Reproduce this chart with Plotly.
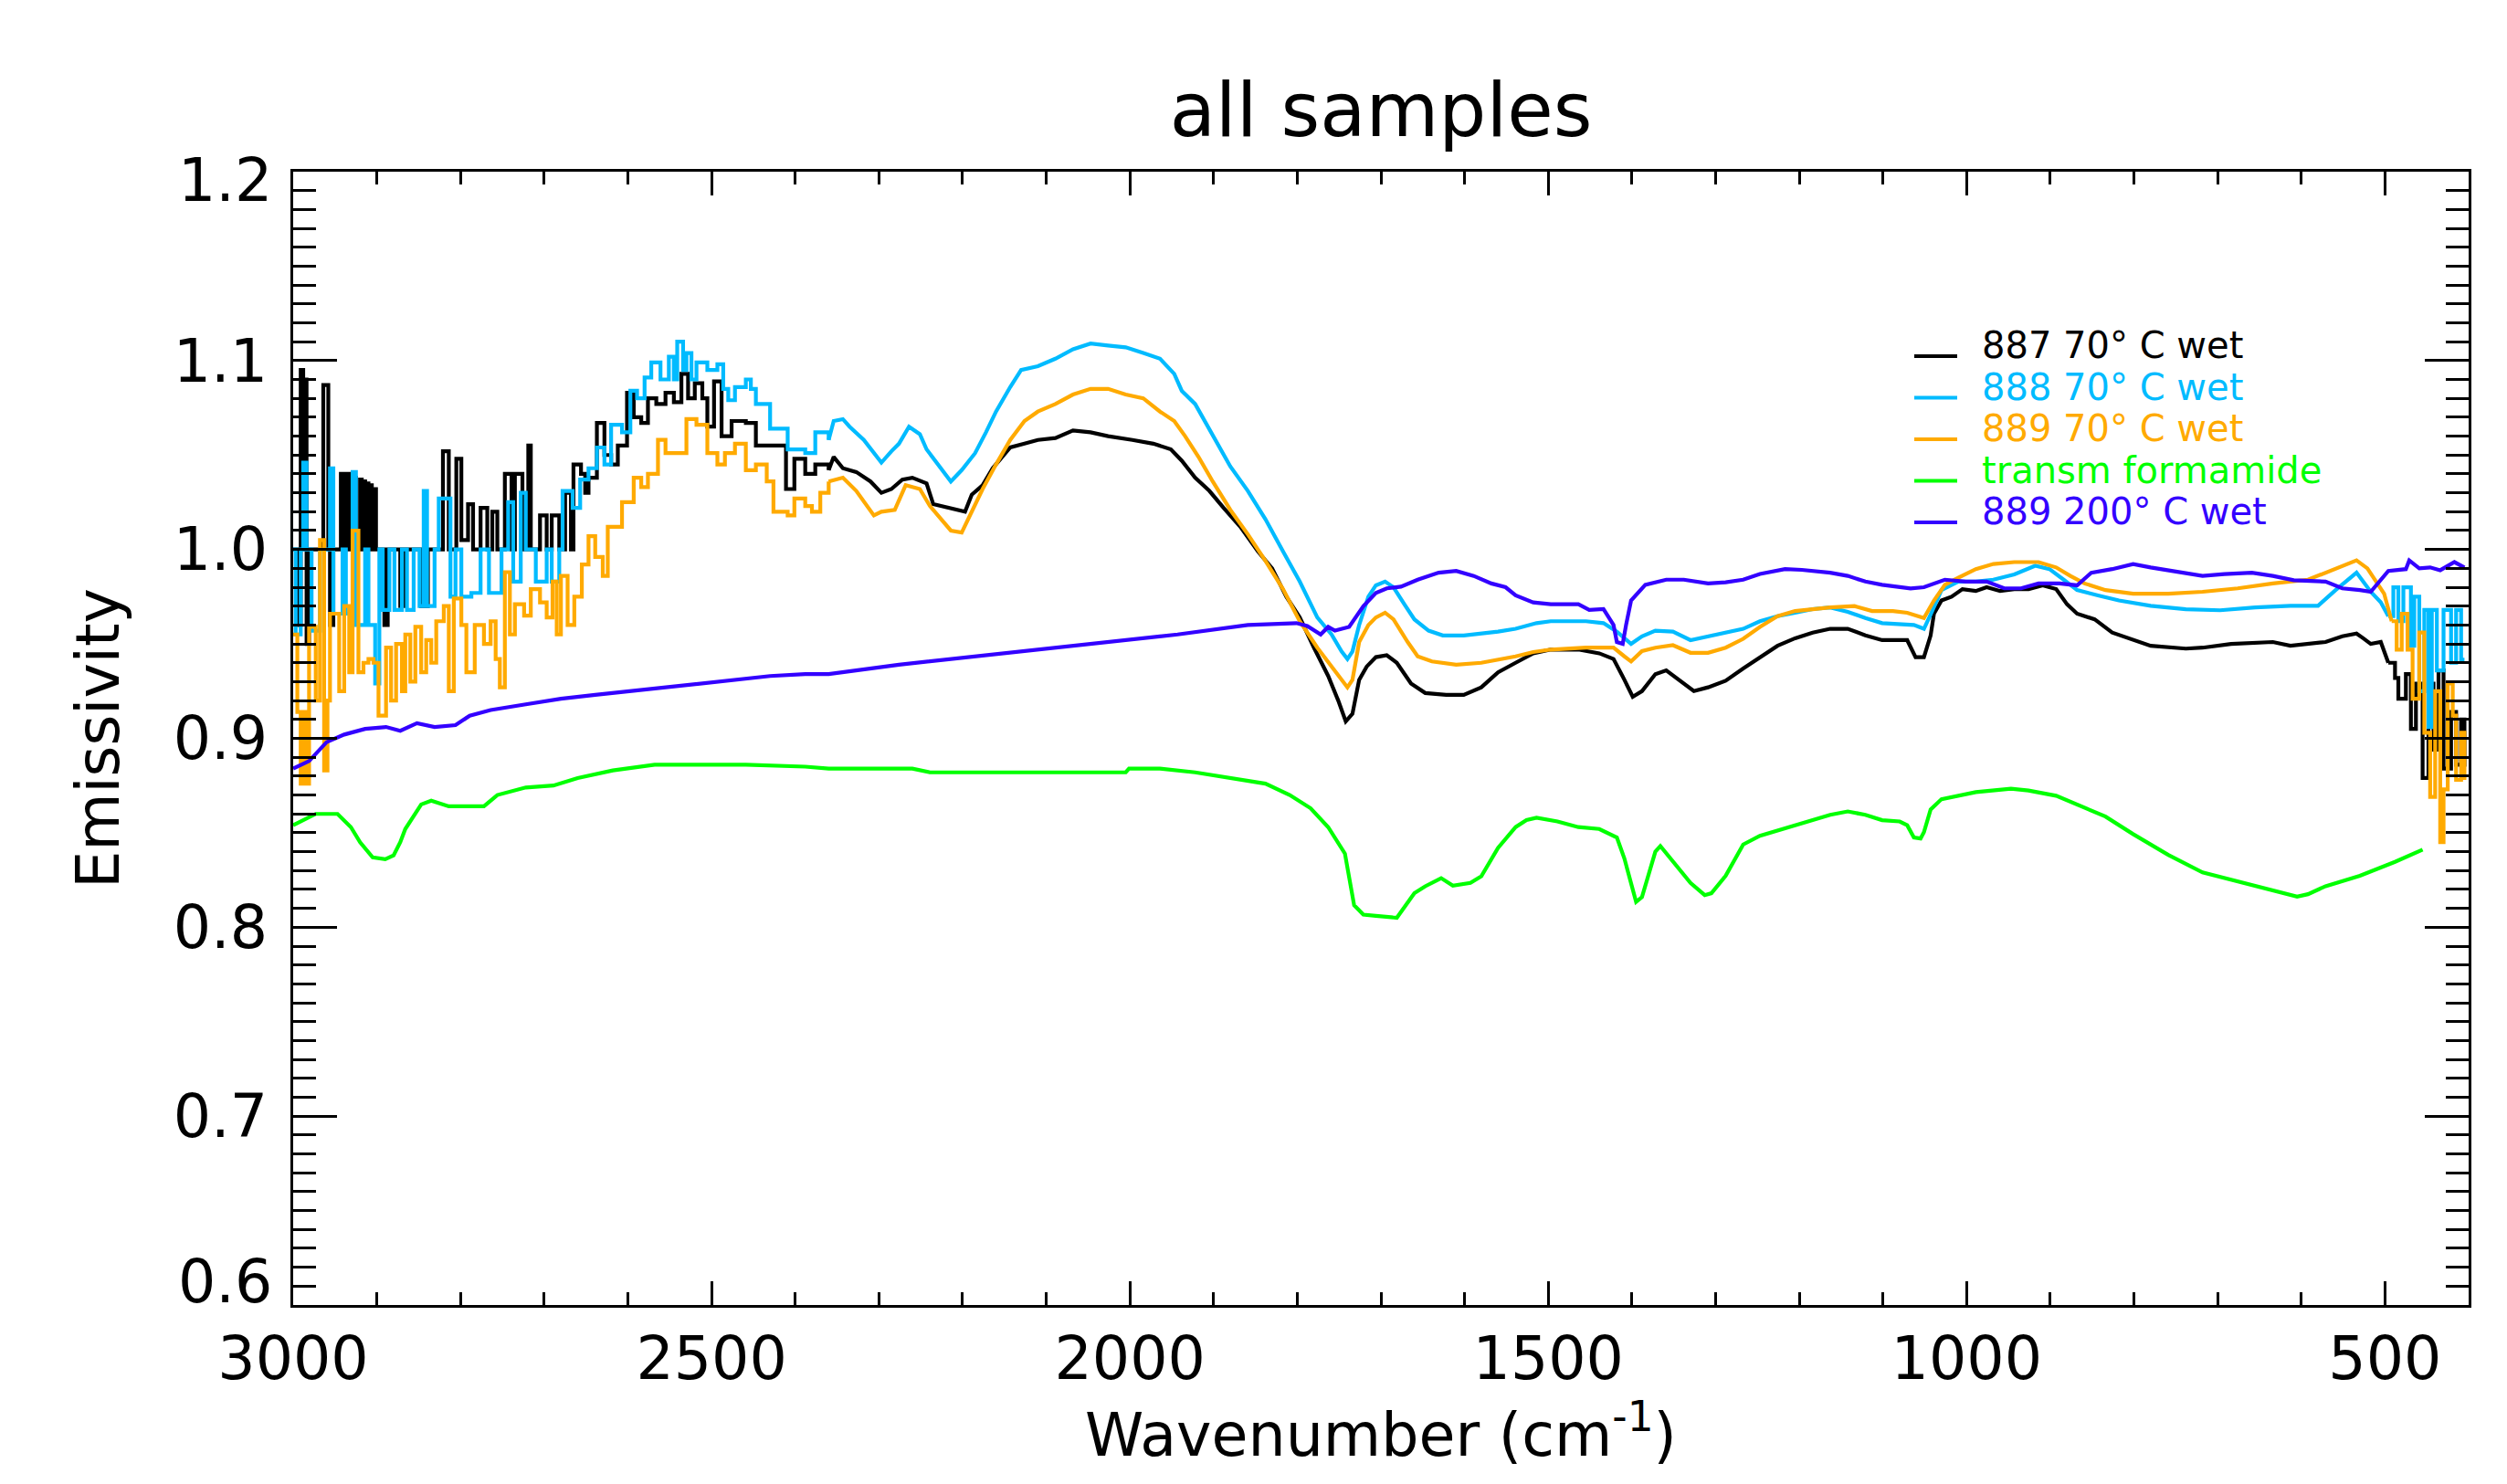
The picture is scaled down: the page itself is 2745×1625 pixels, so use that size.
import plotly.graph_objects as go
import numpy as np

# ---------------- data ----------------
BLACK_WN = [3000, 2993, 2991, 2988, 2987, 2984, 2981, 2964, 2958, 2956, 2952, 2943, 2941, 2939, 2937, 2935, 2931,
            2929, 2925, 2920, 2918, 2916, 2914, 2912, 2910, 2908, 2906, 2904, 2901, 2898, 2891, 2887, 2872, 2868,
            2847, 2839, 2821, 2814, 2805, 2799, 2791,
            2785, 2776, 2768, 2762, 2756, 2747, 2739, 2735, 2726, 2719, 2716, 2705, 2697, 2691, 2682, 2675,
            2668, 2665, 2656, 2651, 2647, 2637, 2628, 2620, 2612, 2601, 2593, 2584, 2576, 2566, 2555, 2545,
            2536, 2528, 2520, 2511, 2505, 2497, 2488, 2476, 2459, 2447, 2430, 2411, 2401, 2388, 2376, 2360,
            2354, 2343, 2327, 2310, 2297, 2285, 2272, 2260, 2243, 2235, 2218, 2197, 2189, 2176, 2164, 2143,
            2126, 2110, 2089, 2068, 2047, 2026, 1997, 1972, 1951, 1938, 1922, 1905, 1888, 1868, 1847, 1830,
            1813, 1797, 1780, 1763, 1751, 1742, 1734, 1726, 1717, 1706, 1693, 1681, 1664, 1647, 1622, 1601,
            1580, 1560, 1539, 1518, 1497, 1464, 1439, 1422, 1409, 1399, 1388, 1372, 1359, 1347, 1326, 1309,
            1288, 1267, 1247, 1226, 1205, 1184, 1163, 1142, 1121, 1101, 1071, 1061, 1051, 1043, 1039, 1030,
            1018, 1005, 989, 976, 960, 943, 926, 909, 893, 880, 868, 847, 826, 801, 780, 738,
            718, 684, 634, 613, 571, 551, 534, 526, 517, 505, 496, 488, 484, 475, 469, 463,
            455, 448, 442, 436, 430, 421, 415, 409, 405]
BLACK_VAL = [1.0, 0.96, 1.095, 1.0, 1.09, 0.95, 1.0, 1.087, 1.0, 0.96, 1.0, 1.04, 1.0, 1.04, 1.0, 1.04, 1.0,
             1.038, 1.0, 1.037, 1.0, 1.036, 1.0, 1.035, 1.0, 1.034, 1.0, 1.032, 1.0, 1.0, 0.96, 1.0, 0.97, 1.0,
             0.97, 1.0, 1.052, 1.0, 1.048, 1.005, 1.024,
             1.0, 1.022, 1.0, 1.02, 1.0, 1.04, 1.0, 1.04, 1.0, 1.055, 1.0, 1.018, 1.0, 1.018, 1.0, 1.03,
             1.0, 1.045, 1.04, 1.03, 1.038, 1.067, 1.05, 1.045, 1.055, 1.083, 1.07, 1.067, 1.08, 1.077, 1.083, 1.078,
             1.093, 1.08, 1.088, 1.08, 1.065, 1.089, 1.06, 1.068, 1.067, 1.055, 1.055, 1.032, 1.048, 1.04, 1.045, 1.042,
             1.049, 1.043, 1.041, 1.036, 1.03, 1.032, 1.037, 1.038, 1.035, 1.024, 1.022, 1.02, 1.029, 1.034, 1.043, 1.054,
             1.056, 1.058, 1.059, 1.063, 1.062, 1.06, 1.058, 1.056, 1.053, 1.047, 1.038, 1.031, 1.022, 1.012, 0.999, 0.99,
             0.975, 0.964, 0.948, 0.933, 0.92, 0.909, 0.913, 0.931, 0.938, 0.943, 0.944, 0.94, 0.929, 0.924, 0.923, 0.923,
             0.927, 0.935, 0.94, 0.945, 0.947, 0.947, 0.945, 0.942, 0.931, 0.922, 0.925, 0.934, 0.936, 0.932, 0.925, 0.927,
             0.9305, 0.937, 0.943, 0.949, 0.953, 0.956, 0.958, 0.958, 0.9545, 0.952, 0.952, 0.943, 0.943, 0.9545, 0.966, 0.973,
             0.975, 0.979, 0.978, 0.98, 0.978, 0.979, 0.979, 0.981, 0.979, 0.971, 0.966, 0.963, 0.956, 0.952, 0.949, 0.9475,
             0.948, 0.95, 0.951, 0.949, 0.951, 0.954, 0.9555, 0.953, 0.95, 0.951, 0.94, 0.932, 0.921, 0.934, 0.905, 0.929,
             0.879, 0.929, 0.894, 0.936, 0.884, 0.914, 0.886, 0.91, 0.885]

CYAN_WN = [3000, 2997, 2991, 2988, 2984, 2978, 2968, 2956, 2952, 2941, 2937, 2929, 2925, 2914, 2910, 2902,
           2897, 2893, 2885, 2879, 2870, 2864, 2856, 2849, 2844, 2840, 2831, 2826, 2818, 2812, 2806, 2799,
           2787, 2776, 2766, 2751, 2743, 2737, 2728, 2722, 2710, 2697, 2691, 2682, 2678, 2666, 2657, 2647,
           2637, 2628, 2620, 2607, 2597, 2589, 2580, 2572, 2561, 2551, 2545, 2541, 2534, 2530, 2524, 2518,
           2505, 2493, 2486, 2480, 2472, 2459, 2453, 2447, 2430, 2409, 2388, 2376, 2360,
           2354, 2343, 2335, 2318, 2297, 2285, 2276, 2264, 2251, 2243, 2231, 2214, 2201, 2185, 2172, 2160,
           2143, 2130, 2110, 2089, 2068, 2047, 2026, 2005, 1984, 1964, 1947, 1938, 1922, 1901, 1880, 1859,
           1838, 1817, 1797, 1776, 1759, 1747, 1740, 1734, 1726, 1715, 1706, 1695, 1685, 1672, 1660, 1643,
           1626, 1601, 1580, 1560, 1539, 1514, 1497, 1455, 1434, 1418, 1401, 1388, 1372, 1351, 1330, 1309,
           1288, 1267, 1247, 1226, 1205, 1184, 1163, 1142, 1121, 1101, 1063, 1051, 1043, 1030, 1010, 989,
           968, 943, 918, 901, 884, 868, 843, 818, 780, 738, 697, 655, 613, 580, 559, 534,
           517, 505, 496, 490, 484, 478, 469, 465, 459, 453, 448, 444, 438, 430, 421, 415,
           409, 405]
CYAN_VAL = [1.0, 0.955, 1.0, 1.046, 1.0, 0.957, 1.0, 1.043, 0.966, 1.0, 0.966, 1.041, 0.96, 1.0, 0.96, 0.929,
            1.0, 0.968, 1.0, 0.968, 1.0, 0.968, 1.0, 0.97, 1.031, 0.97, 1.0, 1.027, 1.027, 0.975, 1.0, 0.975,
            0.977, 1.0, 0.977, 1.0, 1.025, 0.983, 1.03, 1.0, 0.983, 1.0, 0.983, 1.0, 1.031, 1.022, 1.037, 1.043,
            1.054, 1.045, 1.066, 1.062, 1.084, 1.08, 1.091, 1.099, 1.09, 1.102, 1.09, 1.11, 1.095, 1.104, 1.09, 1.099,
            1.095, 1.098, 1.085, 1.079, 1.086, 1.09, 1.085, 1.077, 1.064, 1.053, 1.051, 1.062, 1.058,
            1.068, 1.069, 1.065, 1.058, 1.046, 1.052, 1.056, 1.065, 1.061, 1.053, 1.046, 1.036, 1.042, 1.051, 1.062, 1.073,
            1.086, 1.095, 1.097, 1.101, 1.106, 1.109, 1.108, 1.107, 1.104, 1.101, 1.093, 1.084, 1.077, 1.06, 1.044, 1.031,
            1.016, 0.999, 0.983, 0.964, 0.955, 0.946, 0.942, 0.946, 0.96, 0.975, 0.981, 0.983, 0.98, 0.971, 0.963, 0.957,
            0.9545, 0.9545, 0.9555, 0.9565, 0.958, 0.961, 0.962, 0.962, 0.961, 0.9565, 0.95, 0.954, 0.957, 0.9565, 0.952, 0.954,
            0.9555, 0.958, 0.962, 0.9647, 0.9665, 0.9684, 0.9693, 0.967, 0.9637, 0.961, 0.96, 0.958, 0.9656, 0.9785, 0.983, 0.983,
            0.984, 0.9868, 0.9914, 0.9896, 0.984, 0.9785, 0.9757, 0.973, 0.9702, 0.9684, 0.9678, 0.9693, 0.9702, 0.9702, 0.9785, 0.9877,
            0.9776, 0.972, 0.9647, 0.98, 0.962, 0.98, 0.949, 0.975, 0.925, 0.968, 0.906, 0.968, 0.936, 0.968, 0.94, 0.968,
            0.9416, 0.9416]

ORANGE_WN = [3000, 2995, 2991, 2987, 2984, 2981, 2973, 2968, 2963, 2959, 2956, 2945, 2939, 2933, 2929, 2922,
             2916, 2910, 2904, 2898, 2889, 2883, 2877, 2870, 2866, 2860, 2854, 2847, 2841, 2835, 2829, 2820,
             2814, 2808, 2799, 2793, 2783, 2772, 2764, 2758, 2753, 2747, 2741, 2735, 2724, 2716, 2705, 2697,
             2690, 2685, 2680, 2672, 2664, 2655, 2647, 2639, 2630, 2624, 2614, 2607, 2593, 2584, 2576, 2564,
             2555, 2543, 2530, 2518, 2505, 2493, 2484, 2472, 2459, 2447, 2434, 2426, 2409, 2401, 2388, 2380,
             2370, 2360,
             2343, 2327, 2306, 2297, 2281, 2268, 2251, 2239, 2226, 2214, 2201, 2189, 2176, 2160, 2143, 2126,
             2110, 2089, 2068, 2047, 2026, 2005, 1984, 1964, 1947, 1934, 1918, 1901, 1880, 1859, 1838, 1817,
             1797, 1776, 1759, 1740, 1734, 1726, 1715, 1706, 1695, 1685, 1668, 1656, 1639, 1610, 1580, 1560,
             1539, 1518, 1497, 1455, 1422, 1409, 1401, 1388, 1372, 1351, 1330, 1309, 1288, 1267, 1247, 1226,
             1205, 1163, 1134, 1113, 1088, 1071, 1051, 1039, 1026, 1010, 989, 968, 943, 914, 893, 876,
             859, 834, 801, 759, 718, 676, 634, 592, 571, 551, 534, 521, 509, 501, 492, 486,
             480, 473, 467, 459, 453, 446, 440, 434, 430, 425, 419, 415, 409, 405]
ORANGE_VAL = [0.955, 0.914, 0.876, 0.914, 0.876, 0.959, 0.92, 1.005, 0.883, 0.92, 0.966, 0.925, 0.97, 0.935, 1.01, 0.935,
              0.94, 0.942, 0.94, 0.912, 0.948, 0.92, 0.95, 0.925, 0.955, 0.93, 0.959, 0.935, 0.952, 0.94, 0.962, 0.97,
              0.925, 0.974, 0.96, 0.935, 0.96, 0.95, 0.962, 0.942, 0.927, 0.988, 0.955, 0.971, 0.965, 0.979, 0.972, 0.964,
              0.983, 0.955, 0.986, 0.96, 0.975, 0.992, 1.007, 0.996, 0.986, 1.012, 1.012, 1.025, 1.038, 1.033, 1.04, 1.058,
              1.051, 1.051, 1.069, 1.066, 1.051, 1.045, 1.051, 1.056, 1.042, 1.045, 1.036, 1.02, 1.018, 1.027, 1.023, 1.02,
              1.03, 1.036,
              1.038, 1.031, 1.018, 1.02, 1.021, 1.034, 1.032, 1.023, 1.016, 1.01, 1.009, 1.02, 1.032, 1.045, 1.058, 1.068,
              1.073, 1.077, 1.082, 1.085, 1.085, 1.082, 1.08, 1.073, 1.068, 1.06, 1.049, 1.036, 1.021, 1.008, 0.994, 0.979,
              0.962, 0.948, 0.938, 0.927, 0.931, 0.951, 0.96, 0.964, 0.9665, 0.963, 0.951, 0.9434, 0.9407, 0.939, 0.94, 0.9416,
              0.9434, 0.9457, 0.947, 0.948, 0.948, 0.9434, 0.9407, 0.9462, 0.948, 0.9493, 0.9453, 0.9453, 0.948, 0.9527, 0.959, 0.9647,
              0.9674, 0.9693, 0.97, 0.9674, 0.9674, 0.9665, 0.9637, 0.973, 0.9813, 0.985, 0.9896, 0.9923, 0.9933, 0.9933, 0.9905, 0.986,
              0.982, 0.9785, 0.9766, 0.9766, 0.9776, 0.9794, 0.982, 0.984, 0.9877, 0.9914, 0.9942, 0.99, 0.982, 0.9766, 0.962, 0.947,
              0.966, 0.947, 0.921, 0.956, 0.903, 0.869, 0.925, 0.845, 0.873, 0.929, 0.912, 0.878, 0.903, 0.878]

GREEN_WN = [3000, 2973, 2947, 2931, 2920, 2905, 2890, 2880, 2872, 2866, 2847, 2835, 2814, 2772, 2756, 2722,
            2689, 2660, 2618, 2568, 2459, 2388, 2360, 2260, 2239, 2005, 2001, 1964, 1922, 1880, 1838, 1809,
            1784, 1763, 1743, 1732, 1721, 1706, 1681, 1660, 1647, 1628, 1614, 1593, 1580, 1560, 1539, 1526,
            1514, 1489, 1464, 1439, 1418, 1409, 1395, 1388, 1372, 1366, 1347, 1330, 1313, 1305, 1288, 1267,
            1247, 1226, 1205, 1184, 1163, 1142, 1121, 1101, 1080, 1071, 1063, 1055, 1051, 1043, 1030, 1010,
            989, 947, 926, 893, 864, 834, 801, 759, 718, 676, 634, 605, 592, 571, 530, 488, 455]
GREEN_VAL = [0.854, 0.86, 0.86, 0.853, 0.845, 0.837, 0.836, 0.838, 0.845, 0.852, 0.865, 0.867, 0.864, 0.864, 0.87, 0.874,
             0.875, 0.879, 0.883, 0.886, 0.886, 0.885, 0.884, 0.884, 0.882, 0.882, 0.884, 0.884, 0.882, 0.879, 0.876, 0.87,
             0.863, 0.853, 0.839, 0.8116, 0.8067, 0.806, 0.805, 0.818, 0.8217, 0.826, 0.822, 0.8235, 0.827, 0.842, 0.853, 0.8567,
             0.858, 0.856, 0.853, 0.852, 0.8475, 0.8364, 0.8134, 0.816, 0.84, 0.843, 0.8327, 0.8235, 0.817, 0.818, 0.8272, 0.8438,
             0.8484, 0.851, 0.854, 0.8567, 0.8595, 0.8613, 0.8595, 0.8567, 0.856, 0.854, 0.8475, 0.847, 0.8503, 0.8623, 0.8678, 0.8696,
             0.8715, 0.8733, 0.8724, 0.8696, 0.864, 0.8586, 0.8493, 0.8383, 0.829, 0.8244, 0.8198, 0.8162, 0.8175, 0.8217, 0.8272, 0.8346, 0.8411]

BLUE_WN = [3000, 2981, 2960, 2939, 2914, 2889, 2872, 2852, 2831, 2806, 2789, 2764, 2722, 2680, 2639, 2597,
           2555, 2513, 2472, 2430, 2388, 2360, 2276, 2193, 2110, 2026, 1943, 1859, 1801, 1788, 1772, 1763,
           1755, 1738, 1721, 1706, 1693, 1676, 1656, 1631, 1610, 1589, 1568, 1551, 1539, 1518, 1497, 1464,
           1451, 1434, 1422, 1418, 1411, 1407, 1401, 1384, 1359, 1338, 1309, 1288, 1267, 1247, 1217, 1197,
           1163, 1142, 1121, 1101, 1067, 1051, 1026, 1001, 976, 955, 935, 914, 889, 868, 851, 826,
           801, 780, 751, 718, 692, 659, 634, 609, 571, 551, 530, 517, 496, 475, 471, 459,
           446, 434, 417, 405]
BLUE_VAL = [0.884, 0.888, 0.898, 0.902, 0.905, 0.906, 0.904, 0.908, 0.906, 0.907, 0.912, 0.915, 0.918, 0.921, 0.923, 0.925,
            0.927, 0.929, 0.931, 0.933, 0.934, 0.934, 0.939, 0.943, 0.947, 0.951, 0.955, 0.96, 0.961, 0.9595, 0.955, 0.959,
            0.957, 0.959, 0.97, 0.977, 0.9794, 0.9803, 0.984, 0.9877, 0.9886, 0.986, 0.982, 0.98, 0.9757, 0.972, 0.971, 0.971,
            0.968, 0.9685, 0.96, 0.951, 0.95, 0.96, 0.973, 0.9813, 0.984, 0.984, 0.982, 0.9826, 0.984, 0.987, 0.9896, 0.9892,
            0.9877, 0.986, 0.983, 0.9813, 0.9794, 0.98, 0.984, 0.983, 0.983, 0.9794, 0.9794, 0.982, 0.982, 0.981, 0.9877, 0.9896,
            0.9923, 0.9905, 0.9886, 0.986, 0.987, 0.9877, 0.986, 0.9837, 0.983, 0.9794, 0.9785, 0.9776, 0.9886, 0.9896, 0.9942, 0.99,
            0.9905, 0.989, 0.9933, 0.9905]

SERIES_NAMES = ["887 70° C wet", "888 70° C wet", "889 70° C wet", "transm formamide", "889 200° C wet"]
SERIES_WN = [BLACK_WN, CYAN_WN, ORANGE_WN, GREEN_WN, BLUE_WN]
SERIES_VAL = [BLACK_VAL, CYAN_VAL, ORANGE_VAL, GREEN_VAL, BLUE_VAL]
SERIES_COLORS = ["#000000", "#00BBFF", "#FFAA00", "#00FF00", "#3300FF"]
SERIES_NOISY = [True, True, True, False, False]

TITLE = "all samples"
X_TITLE = "Wavenumber (cm<sup>-1</sup>)"
Y_TITLE = "Emissivity"
X_RANGE = [3000, 400]
Y_RANGE = [0.6, 1.2]
Y_TICKS = [0.6, 0.7, 0.8, 0.9, 1.0, 1.1, 1.2]
Y_TICK_TEXT = ["0.6", "0.7", "0.8", "0.9", "1.0", "1.1", "1.2"]

FONT = "DejaVu Sans"
TICK_SIZE = 65

# plot-area geometry in pixels (for the hand-placed legend / end labels)
W, H = 2745, 1625
L, R, T, B = 313, 50, 180, 204
PW, PH = W - L - R, H - T - B


def px_to_paper(xp, yp):
    return (xp - L) / PW, (H - B - yp) / PH


fig = go.Figure()
for name, wn, val, color, noisy in zip(SERIES_NAMES, SERIES_WN, SERIES_VAL, SERIES_COLORS, SERIES_NOISY):
    wn = np.asarray(wn, dtype=float)
    val = np.asarray(val, dtype=float)
    if noisy:
        # noisy ends drawn as histogram steps, smooth middle as a line; segments share end points
        i1 = int(np.where(wn <= 2360)[0][0])
        i2 = int(np.where(wn <= 500)[0][0])
        segs = [(slice(0, i1 + 1), "hv"), (slice(i1, i2 + 1), "linear"), (slice(i2, None), "hv")]
    else:
        segs = [(slice(0, None), "linear")]
    for sl, shape in segs:
        fig.add_trace(go.Scatter(
            x=wn[sl], y=val[sl], mode="lines", name=name, legendgroup=name,
            showlegend=False, line=dict(color=color, width=4.2, shape=shape),
        ))

# legend drawn IDL-style: short line at the text baseline, text coloured like its series
LEG_X0, LEG_X1, LEG_TX = 2088, 2135, 2160
LEG_Y0, LEG_DY = 370, 45.5
for i, (name, color) in enumerate(zip(SERIES_NAMES, SERIES_COLORS)):
    yc = LEG_Y0 + i * LEG_DY
    xa, ya = px_to_paper(LEG_X0, yc + 12)
    xb, _ = px_to_paper(LEG_X1, yc + 12)
    fig.add_shape(type="line", xref="paper", yref="paper", x0=xa, x1=xb, y0=ya, y1=ya,
                  line=dict(color=color, width=4))
    xt, yt = px_to_paper(LEG_TX, yc)
    fig.add_annotation(text=name, xref="paper", yref="paper", x=xt, y=yt, xanchor="left",
                       yanchor="middle", showarrow=False,
                       font=dict(family=FONT, size=40, color=color))

# IDL pulls the two end labels of the y axis inside the frame: draw those two as text,
# the interior ones as normal tick labels (end ticks coincide with the frame anyway)
end_labels = [(0, 1395), (len(Y_TICKS) - 1, 189)]
for idx, ypix in end_labels:
    xt, yt = px_to_paper(292, ypix)
    fig.add_annotation(text=Y_TICK_TEXT[idx], xref="paper", yref="paper", x=xt, y=yt,
                       xanchor="right", yanchor="middle", showarrow=False,
                       font=dict(family=FONT, size=TICK_SIZE, color="black"))
inner_vals = Y_TICKS[1:-1]
inner_text = Y_TICK_TEXT[1:-1]

axis_common = dict(
    showline=True, linecolor="black", linewidth=3, mirror="ticks",
    ticks="inside", tickcolor="black", tickwidth=2.5, showgrid=False, zeroline=False,
    tickfont=dict(family=FONT, size=TICK_SIZE, color="black"),
)
fig.update_xaxes(
    range=X_RANGE, dtick=500, ticklen=26,
    minor=dict(ticks="inside", dtick=100, ticklen=14, tickcolor="black", tickwidth=2.5),
    title=dict(text=X_TITLE, font=dict(family=FONT, size=TICK_SIZE, color="black"), standoff=0),
    **axis_common,
)
fig.update_yaxes(
    range=Y_RANGE, tickmode="array", tickvals=inner_vals, ticktext=inner_text,
    ticklen=48, ticklabelstandoff=12,
    minor=dict(ticks="inside", dtick=0.01, tick0=0.6, ticklen=25, tickcolor="black", tickwidth=2.5),
    title=dict(text=Y_TITLE, font=dict(family=FONT, size=TICK_SIZE, color="black"), standoff=38),
    **axis_common,
)
fig.update_layout(
    width=W, height=H,
    margin=dict(l=L, r=R, t=T, b=B),
    paper_bgcolor="white", plot_bgcolor="white",
    title=dict(text=TITLE, x=0.5, xref="paper", xanchor="center",
               y=1 - 112 / H, yref="container", yanchor="middle",
               font=dict(family=FONT, size=82, color="black")),
    showlegend=False,
)
fig.write_html("out.html")
